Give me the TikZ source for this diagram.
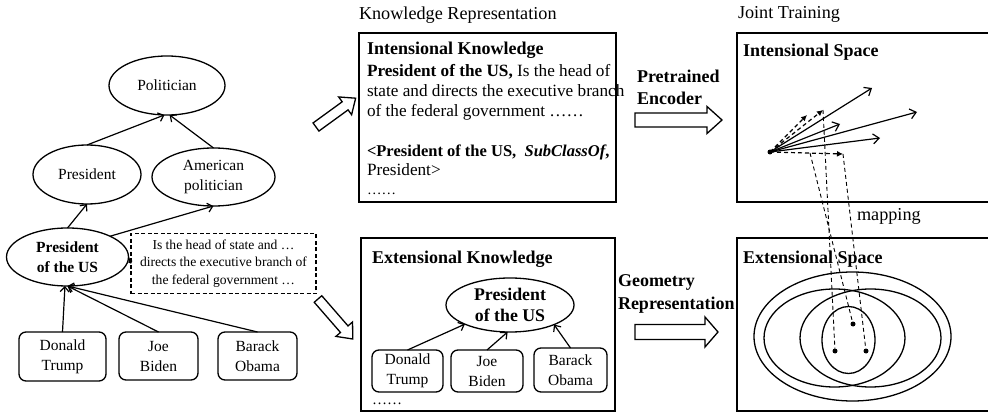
\documentclass[tikz,border=0pt]{standalone}
\usepackage{fontspec}
\setmainfont{Liberation Serif}
\usetikzlibrary{arrows.meta,shapes.geometric}
\begin{document}
\begin{tikzpicture}[x=1pt,y=-1pt,
  every node/.style={inner sep=0pt, outer sep=0pt},
  lw/.style={line width=1.3pt},
  ell/.style={draw, line width=1.3pt, ellipse, inner sep=-10pt, align=center, font=\fontsize{15.5}{20}\selectfont},
  rbox/.style={draw, line width=1.3pt, rounded corners=7pt, align=center, font=\fontsize{15.5}{20}\selectfont},
  frame/.style={draw, line width=1.4pt},
  garrow/.style={line width=1.2pt, -{Straight Barb[length=5pt,width=9pt]}},
  sarrow/.style={line width=1.2pt, -{Straight Barb[length=6pt,width=10pt]}},
  darrow/.style={line width=1.2pt, dashed, dash pattern=on 4pt off 3pt, -{Latex[length=6pt,width=6pt]}},
  mapline/.style={line width=0.9pt, dash pattern=on 4pt off 3pt},
  bodytext/.style={anchor=base west, font=\fontsize{17.2}{20}\selectfont},
  headtext/.style={anchor=base west, font=\fontsize{18}{22}\selectfont\bfseries},
  titletext/.style={anchor=base west, font=\fontsize{18.2}{22}\selectfont},
  dotn/.style={circle, fill=black, minimum size=5pt},
  pics/harrow/.style n args={4}{code={%
    \draw[line width=1.3pt, fill=white] (0,-#2) -- (#1-#4,-#2) -- (#1-#4,-#3) -- (#1,0) -- (#1-#4,#3) -- (#1-#4,#2) -- (0,#2) -- cycle;}}
]
\useasboundingbox (0,0) rectangle (988,414);
\clip (0,0) rectangle (988,414);

% ---------- left graph ----------
\node[ell, minimum width=116, minimum height=59] (pol) at (167,85.5) {Politician};
\node[ell, minimum width=108, minimum height=59] (pres) at (87,174.5) {President};
\node[ell, minimum width=123, minimum height=58] (amp) at (213.5,177) {American\\politician};
\node[ell, minimum width=122, minimum height=58, font=\fontsize{15.5}{20}\selectfont\bfseries] (potus) at (67.5,257) {President\\of the US};
\node[draw, line width=1.2pt, dash pattern=on 4pt off 2.5pt, minimum width=185, minimum height=60, align=center,
      font=\fontsize{13.6}{17.3}\selectfont] (desc) at (223.5,263.5) {Is the head of state and \ldots\\directs the executive branch of\\the federal government \ldots};
\node[rbox, minimum width=87, minimum height=49] (dt) at (62.5,356.5) {Donald\\Trump};
\node[rbox, minimum width=79, minimum height=48] (jb) at (158.5,356) {Joe\\Biden};
\node[rbox, minimum width=79, minimum height=48] (bo) at (257.5,356) {Barack\\Obama};

\draw[garrow] (pres.north) -- (pol.265);
\draw[garrow] (amp.north) -- (pol.275);
\draw[garrow] (potus.north) -- (pres.south);
\draw[garrow] (potus.26) -- (amp.south);
\draw[garrow] (dt.north) -- (potus.265);
\draw[garrow] (jb.north) -- (potus.south);
\draw[garrow] (bo.north) -- (potus.south);
\draw[line width=1.1pt, {Circle[length=4pt]}-] (desc.west) -- (potus.east);

% hollow arrows to the knowledge boxes
\pic[rotate=36] at (316,127) {harrow={49}{5}{11}{13}};
\pic[rotate=-49] at (318,299) {harrow={53}{5}{11}{13}};

% ---------- knowledge representation ----------
\node[titletext] (krt) at (359,20) {Knowledge Representation};
\draw[frame] (359,33) rectangle (616,202);
\node[headtext] (ik1) at (367,55) {Intensional Knowledge};
\node[bodytext] (ik2) at (367,77) {\textbf{President of the US,} Is the head of};
\node[bodytext] (ik3) at (367,97) {state and directs the executive branch};
\node[bodytext] (ik4) at (367,117) {of the federal government ……};
\node[bodytext, font=\fontsize{16.5}{20}\selectfont] (ik5) at (367,157) {\textbf{<President of the US,\ \ \textit{SubClassOf},}};
\node[bodytext] (ik6) at (367,176) {President>};
\node[bodytext, font=\fontsize{14.5}{16}\selectfont] (ik7) at (367,195) {……};

\draw[frame] (361,238) rectangle (615,411);
\node[headtext] (ek1) at (372,263) {Extensional Knowledge};
\node[ell, minimum width=128, minimum height=54, font=\fontsize{17.8}{21.7}\selectfont\bfseries] (pe) at (510,305) {President\\of the US};
\node[rbox, minimum width=71, minimum height=42] (dt2) at (407.5,371) {Donald\\Trump};
\node[rbox, minimum width=72, minimum height=42] (jb2) at (487,371) {Joe\\Biden};
\node[rbox, minimum width=73, minimum height=44] (bo2) at (570.5,370) {Barack\\Obama};
\node[bodytext, font=\fontsize{15}{16}\selectfont] (ek2) at (372,404) {……};
\draw[garrow] (dt2.north) -- (pe.203);
\draw[garrow] (jb2.north) -- (pe.265);
\draw[garrow] (bo2.north) -- (pe.-24);

% ---------- middle arrows ----------
\node[headtext] (pt1) at (637,83) {Pretrained};
\node[headtext] (pt2) at (637,105) {Encoder};
\pic at (635,120) {harrow={87}{7}{13.5}{15}};
\node[headtext] (gr1) at (618,287) {Geometry};
\node[headtext] (gr2) at (618,309) {Representation};
\pic at (635,332) {harrow={83}{7.5}{15}{13}};

% ---------- joint training ----------
\node[titletext] (jtt) at (738,19) {Joint Training};
\draw[frame] (737,33) rectangle (995,202);
\node[headtext] (is) at (743,57) {Intensional Space};
\draw[frame] (737,238) rectangle (995,411);

% extensional ellipses
\draw[lw] (852.5,336.5) ellipse [x radius=98.5, y radius=64.5];
\draw[lw] (834.5,338) ellipse [x radius=70.5, y radius=49];
\draw[lw] (870.5,338) ellipse [x radius=70.5, y radius=49];
\draw[lw] (848.5,340) ellipse [x radius=26.5, y radius=33.5];

% vectors
\coordinate (o) at (770,152);
\coordinate (s1) at (872,88);
\coordinate (s2) at (917,112);
\coordinate (s3) at (840,124);
\coordinate (s4) at (880,138);
\coordinate (v1) at (807,115);
\coordinate (v2) at (823,110);
\coordinate (v3) at (843,154);
\draw[sarrow] (o) -- (s1);
\draw[sarrow] (o) -- (s2);
\draw[sarrow] (o) -- (s3);
\draw[sarrow] (o) -- (s4);
\draw[darrow] (o) -- (v1);
\draw[darrow] (o) -- (v2);
\draw[darrow] (o) -- (v3);
\fill (o) circle (2.5pt);

\node[headtext] (es) at (743,263) {Extensional Space};

% points and mapping
\node[dotn] (d1) at (835,351) {};
\node[dotn] (d2) at (853,324) {};
\node[dotn] (d3) at (866,351) {};
\coordinate (m1) at (810,153);
\draw[mapline] (m1) -- (d2);
\draw[mapline] (v2) -- (d1);
\draw[mapline] (v3) -- (d3);
\node[titletext] (map) at (857,221) {mapping};
\end{tikzpicture}
\end{document}
